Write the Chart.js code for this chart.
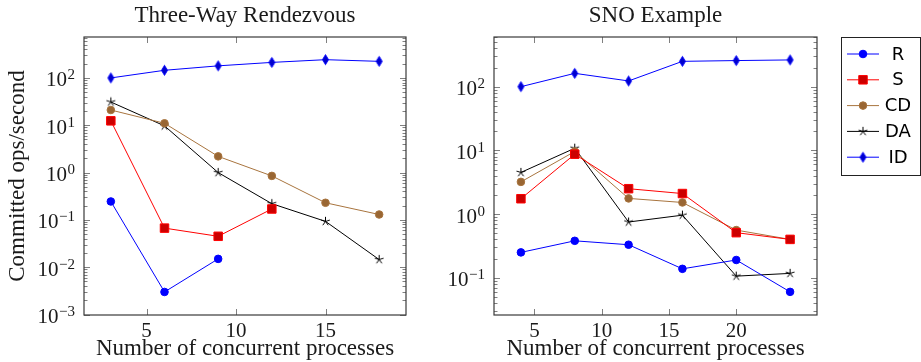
<!DOCTYPE html>
<html lang="en">
<head>
    <meta charset="UTF-8">
    <title>Committed ops/second</title>
    <script src="https://cdn.jsdelivr.net/npm/chart.js"></script>
    <style>
        body { margin: 0; background: #fff; }
        canvas { position: absolute; top: 0; }
        #leftChart { left: 0; }
        #rightChart { left: 420px; }
    </style>
</head>
<body>
    <canvas id="leftChart" width="420" height="362"></canvas>
    <canvas id="rightChart" width="501" height="362"></canvas>

    <script>
        // Three-Way Rendezvous
        const leftX = [3, 6, 9, 12, 15, 18];
        const leftR = [0.245, 0.003, 0.015, null, null, null];
        const leftS = [12.4, 0.067, 0.045, 0.17, null, null];
        const leftCD = [21, 11, 2.2, 0.85, 0.23, 0.13];
        const leftDA = [31, 9.7, 1.0, 0.22, 0.093, 0.0145];
        const leftID = [100, 145, 180, 213, 243, 224];

        // SNO Example
        const rightX = [4, 8, 12, 16, 20, 24];
        const rightR = [0.25, 0.38, 0.33, 0.138, 0.19, 0.06];
        const rightS = [1.74, 8.7, 2.5, 2.1, 0.51, 0.40];
        const rightCD = [3.2, 9.6, 1.76, 1.52, 0.56, 0.40];
        const rightDA = [4.5, 10.8, 0.75, 0.96, 0.106, 0.117];
        const rightID = [100, 162, 123, 250, 257, 263];

        // tick labels
        const leftXTicks = [5, 10, 15];
        const rightXTicks = [5, 10, 15, 20];
        const leftYExps = [-3, -2, -1, 0, 1, 2];
        const rightYExps = [-1, 0, 1, 2];

        const seriesNames = ['R', 'S', 'CD', 'DA', 'ID'];

        const serif = '"Liberation Serif", "DejaVu Serif", serif';

        // marker images for star and diamond
        function starMark() {
            const c = document.createElement('canvas');
            c.width = 11; c.height = 11;
            const g = c.getContext('2d');
            g.strokeStyle = '#000';
            g.lineWidth = 1;
            g.beginPath();
            for (let k = 0; k < 5; k++) {
                const a = -Math.PI / 2 + k * 2 * Math.PI / 5;
                g.moveTo(5.5, 5.5);
                g.lineTo(5.5 + 4.6 * Math.cos(a), 5.5 + 4.6 * Math.sin(a));
            }
            g.stroke();
            return c;
        }

        function diamondMark() {
            const c = document.createElement('canvas');
            c.width = 9; c.height = 13;
            const g = c.getContext('2d');
            g.fillStyle = '#0000cc';
            g.strokeStyle = '#0000ff';
            g.lineWidth = 1;
            g.beginPath();
            g.moveTo(4.5, 1.5); g.lineTo(7.5, 6.5); g.lineTo(4.5, 11.5); g.lineTo(1.5, 6.5);
            g.closePath();
            g.fill(); g.stroke();
            return c;
        }

        const STAR = starMark();
        const DIAMOND = diamondMark();

        const styles = [
            { borderColor: '#0000ff', backgroundColor: '#0000ff', pointStyle: 'circle', pointRadius: 3.8 },
            { borderColor: '#ff0000', backgroundColor: '#cc0000', pointStyle: 'rect', pointRadius: 6 },
            { borderColor: '#a8743e', backgroundColor: '#996633', pointStyle: 'circle', pointRadius: 3.8 },
            { borderColor: '#000000', backgroundColor: '#000000', pointStyle: STAR, pointRadius: 5 },
            { borderColor: '#0000ff', backgroundColor: '#0000cc', pointStyle: DIAMOND, pointRadius: 5 }
        ];

        function makeDatasets(xs, series) {
            return series.map((vals, i) => ({
                label: seriesNames[i],
                data: xs.map((x, j) => ({ x: x, y: vals[j] })),
                borderColor: styles[i].borderColor,
                backgroundColor: styles[i].backgroundColor,
                pointBackgroundColor: styles[i].backgroundColor,
                pointBorderColor: styles[i].borderColor,
                pointStyle: styles[i].pointStyle,
                pointRadius: styles[i].pointRadius,
                pointBorderWidth: 1,
                borderWidth: 1,
                tension: 0,
                spanGaps: false
            }));
        }

        // draws pgfplots-style box, inward ticks, tick labels, titles, legend
        const pgfFrame = {
            id: 'pgfFrame',
            beforeDatasetsDraw(chart, args, opts) {
                const ctx = chart.ctx;
                const { left, right, top, bottom } = chart.chartArea;
                const xs = chart.scales.x, ys = chart.scales.y;
                ctx.save();
                ctx.strokeStyle = '#808080';
                ctx.lineWidth = 1;
                ctx.beginPath();
                const e0 = Math.floor(Math.log10(ys.min)), e1 = Math.ceil(Math.log10(ys.max));
                for (let e = e0; e <= e1; e++) {
                    for (let m = 1; m <= 9; m++) {
                        const v = m * Math.pow(10, e);
                        if (v < ys.min || v > ys.max) continue;
                        const py = Math.round(ys.getPixelForValue(v)) + 0.5;
                        const len = m === 1 ? 6 : 3.5;
                        ctx.moveTo(left, py); ctx.lineTo(left + len, py);
                        ctx.moveTo(right, py); ctx.lineTo(right - len, py);
                    }
                }
                opts.xTicks.forEach(v => {
                    const px = Math.round(xs.getPixelForValue(v)) + 0.5;
                    ctx.moveTo(px, bottom); ctx.lineTo(px, bottom - 6);
                    ctx.moveTo(px, top); ctx.lineTo(px, top + 6);
                });
                ctx.stroke();
                ctx.strokeStyle = '#3a3a3a';
                ctx.lineWidth = 1.2;
                ctx.strokeRect(left, top, right - left, bottom - top);
                ctx.restore();
            },
            afterDraw(chart, args, opts) {
                const ctx = chart.ctx;
                const { left, right, top, bottom } = chart.chartArea;
                const xs = chart.scales.x, ys = chart.scales.y;
                ctx.save();
                ctx.fillStyle = '#1a1a1a';

                // y tick labels 10^n
                opts.yExps.forEach(e => {
                    const py = ys.getPixelForValue(Math.pow(10, e));
                    const ex = e < 0 ? '\u2212' + (-e) : String(e);
                    ctx.font = '15px ' + serif;
                    const w2 = ctx.measureText(ex).width;
                    const x0 = left - 9 - w2;
                    ctx.textAlign = 'left';
                    ctx.textBaseline = 'alphabetic';
                    ctx.fillText(ex, x0, py + 1.5);
                    ctx.font = '21px ' + serif;
                    ctx.textAlign = 'right';
                    ctx.fillText('10', x0 - 0.5, py + 8.5);
                });

                // x tick labels
                ctx.font = '21px ' + serif;
                ctx.textAlign = 'center';
                ctx.textBaseline = 'alphabetic';
                opts.xTicks.forEach(v => {
                    ctx.fillText(String(v), xs.getPixelForValue(v), 337);
                });

                const cx = (left + right) / 2;
                ctx.font = '23px ' + serif;
                ctx.fillText(opts.title, cx, 22);
                ctx.fillText('Number of concurrent processes', cx, 355);

                if (opts.yTitle) {
                    ctx.translate(24, (top + bottom) / 2);
                    ctx.rotate(-Math.PI / 2);
                    ctx.fillText(opts.yTitle, 0, 0);
                    ctx.setTransform(1, 0, 0, 1, 0, 0);
                }

                if (opts.legend) {
                    const lg = opts.legend;
                    ctx.strokeStyle = '#222';
                    ctx.lineWidth = 1;
                    ctx.strokeRect(lg.x + 0.5, lg.y + 0.5, lg.w, lg.h);
                    chart.data.datasets.forEach((ds, i) => {
                        const y = lg.y + 17 + i * 25.8;
                        ctx.strokeStyle = ds.borderColor;
                        ctx.lineWidth = 1;
                        ctx.beginPath();
                        ctx.moveTo(lg.x + 6, y); ctx.lineTo(lg.x + 38, y);
                        ctx.stroke();
                        ctx.fillStyle = ds.pointBackgroundColor;
                        ctx.strokeStyle = ds.pointBorderColor;
                        Chart.helpers.drawPoint(ctx, {
                            pointStyle: ds.pointStyle, radius: ds.pointRadius,
                            rotation: 0, borderWidth: 1
                        }, lg.x + 22, y);
                        ctx.fillStyle = '#000';
                        ctx.font = '18px "DejaVu Sans", sans-serif';
                        ctx.textAlign = 'center';
                        ctx.textBaseline = 'middle';
                        ctx.fillText(ds.label, lg.x + 57, y + 1);
                    });
                }
                ctx.restore();
            }
        };

        function makeChart(id, xs, series, xr, yr, yWidth, padRight, extra) {
            return new Chart(document.getElementById(id), {
                type: 'line',
                data: { datasets: makeDatasets(xs, series) },
                plugins: [pgfFrame],
                options: {
                    responsive: false,
                    animation: false,
                    layout: { padding: { top: 37, right: padRight, left: 0, bottom: 0 } },
                    plugins: {
                        legend: { display: false },
                        title: { display: false },
                        tooltip: { enabled: false },
                        pgfFrame: extra
                    },
                    scales: {
                        x: {
                            type: 'linear',
                            min: xr[0], max: xr[1],
                            grid: { display: false },
                            border: { display: false },
                            ticks: { display: false },
                            afterBuildTicks: s => { s.ticks = extra.xTicks.map(v => ({ value: v })); },
                            afterFit: s => { s.height = 47; }
                        },
                        y: {
                            type: 'logarithmic',
                            min: Math.pow(10, yr[0]), max: Math.pow(10, yr[1]),
                            grid: { display: false },
                            border: { display: false },
                            ticks: { display: false },
                            afterBuildTicks: s => { s.ticks = extra.yExps.map(e => ({ value: Math.pow(10, e) })); },
                            afterFit: s => { s.width = yWidth; }
                        }
                    }
                }
            });
        }

        makeChart('leftChart', leftX, [leftR, leftS, leftCD, leftDA, leftID],
            [1.5, 19.5], [-3.01, 2.865], 84, 14,
            { title: 'Three-Way Rendezvous', yTitle: 'Committed ops/second', xTicks: leftXTicks, yExps: leftYExps });

        makeChart('rightChart', rightX, [rightR, rightS, rightCD, rightDA, rightID],
            [2, 26], [-1.585, 2.78], 74, 104,
            { title: 'SNO Example', xTicks: rightXTicks, yExps: rightYExps, legend: { x: 421, y: 37, w: 79, h: 138 } });
    </script>
</body>
</html>
